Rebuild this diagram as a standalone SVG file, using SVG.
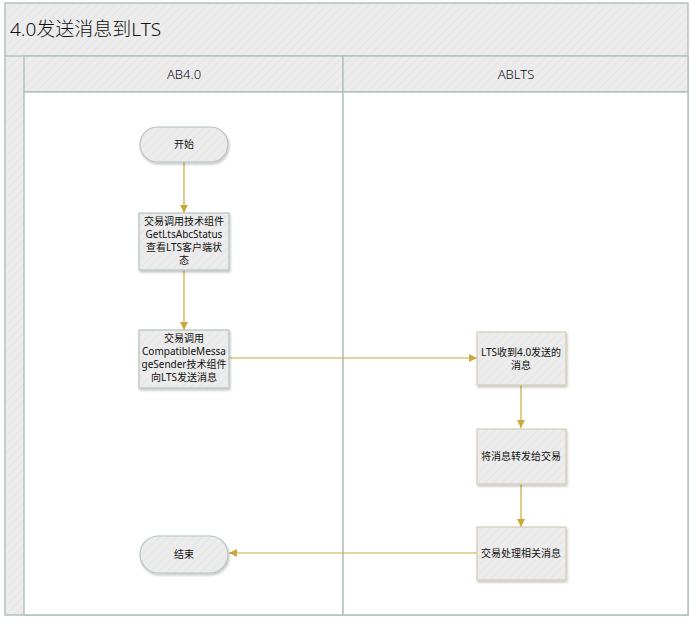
<svg xmlns="http://www.w3.org/2000/svg" width="693" height="625" viewBox="0 0 693 625">
<defs>
<pattern id="hatch" width="6" height="6" patternUnits="userSpaceOnUse" patternTransform="rotate(45)">
<rect width="6" height="6" fill="#ececec"/>
<line x1="0" y1="0" x2="0" y2="6" stroke="#e5e5e5" stroke-width="2"/>
</pattern>
<marker id="arr" viewBox="0 0 10 10" refX="10" refY="5" markerWidth="8" markerHeight="8" markerUnits="userSpaceOnUse" orient="auto">
<path d="M0,0 L10,5 L0,10 z" fill="#c9a93b"/>
</marker>
<filter id="sh" x="-10%" y="-10%" width="130%" height="140%">
<feDropShadow dx="1" dy="2" stdDeviation="1.2" flood-color="#000" flood-opacity="0.22"/>
</filter>
</defs>
<style>
.frame{fill:url(#hatch);stroke:#b3c3bc;stroke-width:1.5}
.lane{fill:#fff;stroke:#b3c3bc;stroke-width:1.5}
.node{fill:url(#hatch);filter:url(#sh)}
.g{stroke:#b3c3bc;stroke-width:1.2}
.t{stroke:#d5ccb3;stroke-width:1.2}
text{font-family:"Noto Sans","Noto Sans CJK SC",sans-serif;fill:#111;text-anchor:middle}
.nt{font-size:10px}
.hd{font-size:13px;font-weight:300}
.ttl{font-size:19px;text-anchor:start;font-weight:300}
.c{stroke:#c9a93b;stroke-width:1.2;fill:none;marker-end:url(#arr)}
</style>
<g id="pool">
<rect class="frame" x="5" y="3" width="683" height="612"/>
<line x1="5" y1="56" x2="688" y2="56" stroke="#b3c3bc" stroke-width="1.5"/>
<text class="ttl" x="10" y="36">4.0发送消息到LTS</text>
</g>
<g id="lane-ab40">
<rect class="frame" x="24" y="56" width="319" height="36"/>
<rect class="lane" x="24" y="92" width="319" height="523"/>
<text class="hd" x="184" y="79">AB4.0</text>
</g>
<g id="lane-ablts">
<rect class="frame" x="343" y="56" width="345" height="36"/>
<rect class="lane" x="343" y="92" width="345" height="523"/>
<text class="hd" x="516" y="79">ABLTS</text>
</g>
<g id="connectors">
<path class="c" d="M184,162 V213"/>
<path class="c" d="M184,270 V330"/>
<path class="c" d="M229,358 H477"/>
<path class="c" d="M521,385 V428"/>
<path class="c" d="M521,484 V527"/>
<path class="c" d="M477,553 H229"/>
</g>
<g id="start">
<rect class="node g" x="140" y="127" width="88" height="35" rx="17.5"/>
<text class="nt" x="184" y="148">开始</text>
</g>
<g id="n1">
<rect class="node g" x="139" y="213" width="90" height="57"/>
<text class="nt" x="184" y="225">交易调用技术组件</text>
<text class="nt" x="184" y="238">GetLtsAbcStatus</text>
<text class="nt" x="184" y="251">查看LTS客户端状</text>
<text class="nt" x="184" y="264">态</text>
</g>
<g id="n2">
<rect class="node g" x="139" y="330" width="90" height="58"/>
<text class="nt" x="184" y="342">交易调用</text>
<text class="nt" x="184" y="355">CompatibleMessa</text>
<text class="nt" x="184" y="368">geSender技术组件</text>
<text class="nt" x="184" y="381">向LTS发送消息</text>
</g>
<g id="n3">
<rect class="node t" x="477" y="332" width="89" height="53"/>
<text class="nt" x="521" y="356">LTS收到4.0发送的</text>
<text class="nt" x="521" y="369">消息</text>
</g>
<g id="n4">
<rect class="node t" x="477" y="429" width="89" height="55"/>
<text class="nt" x="521" y="460">将消息转发给交易</text>
</g>
<g id="n5">
<rect class="node t" x="477" y="527" width="89" height="53"/>
<text class="nt" x="521" y="557">交易处理相关消息</text>
</g>
<g id="end">
<rect class="node g" x="140" y="536" width="88" height="37" rx="18.5"/>
<text class="nt" x="184" y="558">结束</text>
</g>
</svg>
